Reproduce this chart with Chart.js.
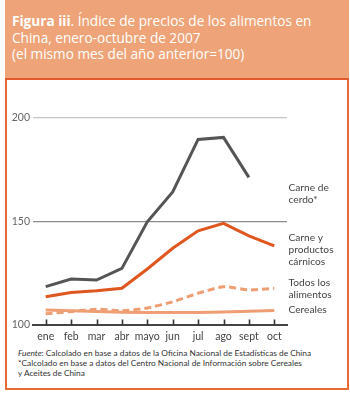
<!DOCTYPE html>
<html>
<head>
<meta charset="utf-8">
<script src="https://cdn.jsdelivr.net/npm/chart.js@4.4.1/dist/chart.umd.min.js"></script>
<style>
  html, body { margin: 0; padding: 0; background: #fff; }
  body { width: 350px; height: 396px; position: relative; overflow: hidden; font-family: "Open Sans", "Noto Sans", sans-serif; }
  #frame { position: absolute; left: 5px; top: -2px; width: 344px; height: 392px; box-sizing: border-box; border: 2px solid #E66A33; }
  #header { position: absolute; left: 5px; top: 0; width: 344px; height: 80px; box-sizing: border-box; background: #EEA478; border-bottom: 2.5px solid #E0592A; }
  #title { position: absolute; left: 12px; top: 13px; color: #fff; font-size: 13.6px; line-height: 16.5px; white-space: nowrap; }
  #title b { font-weight: 700; }
  #chartwrap { position: absolute; left: 0; top: 80px; width: 350px; height: 265px; }
  #notes { position: absolute; left: 18px; top: 348px; font-family: Lato, "Open Sans", sans-serif; font-size: 8.3px; line-height: 10px; color: #333; white-space: nowrap; }
</style>
</head>
<body>
<div id="frame"></div>
<div id="header"></div>
<div id="title"><b>Figura iii</b>. Índice de precios de los alimentos en<br>China, enero-octubre de 2007<br>(el mismo mes del año anterior=100)</div>
<div id="chartwrap"><canvas id="c" width="350" height="265"></canvas></div>
<div id="notes"><i>Fuente</i>: Calcolado en base a datos de la Oficina Nacional de Estadísticas de China<br>*Calcolado en base a datos del Centro Nacional de Información sobre Cereales<br>y Aceites de China</div>
<script>
const months = ["ene", "feb", "mar", "abr", "mayo", "jun", "jul", "ago", "sept", "oct"];
const yTicks = [100, 150, 200];
const cerdo = [118.5, 122.2, 121.7, 127.3, 149.8, 164.2, 189.5, 190.5, 171.2, null];
const carne = [113.6, 115.7, 116.5, 117.7, 127.0, 137.0, 145.4, 149.0, 143.0, 138.2];
const todos = [105.4, 106.5, 107.6, 106.9, 108.2, 111.2, 115.3, 118.5, 116.9, 117.7];
const cereales = [107.2, 106.9, 106.5, 106.2, 106.0, 106.0, 106.0, 106.3, 106.6, 107.0];
const seriesLabels = [
  { lines: ["Carne de", "cerdo*"], y: 108 },
  { lines: ["Carne y", "productos", "cárnicos"], y: 157.7 },
  { lines: ["Todos los", "alimentos"], y: 202.7 },
  { lines: ["Cereales"], y: 229.3 }
];

const FONT = 'Lato, "Open Sans", sans-serif';

const extras = {
  id: 'extras',
  afterDatasetsDraw(chart) {
    const ctx = chart.ctx;
    const xs = chart.scales.x, ys = chart.scales.y;
    const base = ys.getPixelForValue(100);
    ctx.save();
    ctx.strokeStyle = '#333';
    ctx.lineWidth = 1.6;
    months.forEach((m, i) => {
      const x = Math.round(xs.getPixelForValue(i)) + 0.5;
      ctx.beginPath();
      ctx.moveTo(x, base - 5.5);
      ctx.lineTo(x, base);
      ctx.stroke();
    });
    ctx.fillStyle = '#444';
    ctx.font = '10.2px ' + FONT;
    ctx.textBaseline = 'middle';
    ctx.textAlign = 'left';
    const lx = chart.chartArea.right + 1.5;
    seriesLabels.forEach(s => {
      s.lines.forEach((t, k) => ctx.fillText(t, lx, s.y + k * 12));
    });
    ctx.restore();
  }
};

new Chart(document.getElementById('c'), {
  type: 'line',
  data: {
    labels: months,
    datasets: [
      { data: cereales, borderColor: '#EF9E73', borderWidth: 3, pointRadius: 0, tension: 0 },
      { data: todos, borderColor: '#EF9E73', borderWidth: 3, borderDash: [7, 4], pointRadius: 0, tension: 0.2 },
      { data: carne, borderColor: '#E0561F', borderWidth: 3, pointRadius: 0, tension: 0 },
      { data: cerdo, borderColor: '#555555', borderWidth: 3, pointRadius: 0, tension: 0, spanGaps: false }
    ]
  },
  options: {
    responsive: false,
    animation: false,
    events: [],
    layout: { padding: { left: 0, right: 63, top: 37.7, bottom: 0 } },
    plugins: { legend: { display: false }, tooltip: { enabled: false }, title: { display: false } },
    scales: {
      x: {
        offset: true,
        grid: { display: false, drawTicks: false },
        border: { display: true, color: '#444', width: 2 },
        ticks: { color: '#444', font: { family: FONT, size: 10.5 }, padding: 5, maxRotation: 0, autoSkip: false },
        afterFit(s) { s.height = 20; }
      },
      y: {
        min: 100, max: 200,
        afterBuildTicks(s) { s.ticks = yTicks.map(v => ({ value: v })); },
        grid: {
          drawTicks: false,
          lineWidth: 1.2,
          color: c => c.tick.value === 200 ? '#C4C4C4' : (c.tick.value === 150 ? '#8A8A8A' : 'rgba(0,0,0,0)')
        },
        border: { display: false },
        ticks: { color: '#666', font: { family: FONT, size: 10.5 }, padding: 3 },
        afterFit(s) { s.width = 33; }
      }
    }
  },
  plugins: [extras]
});
</script>
</body>
</html>
